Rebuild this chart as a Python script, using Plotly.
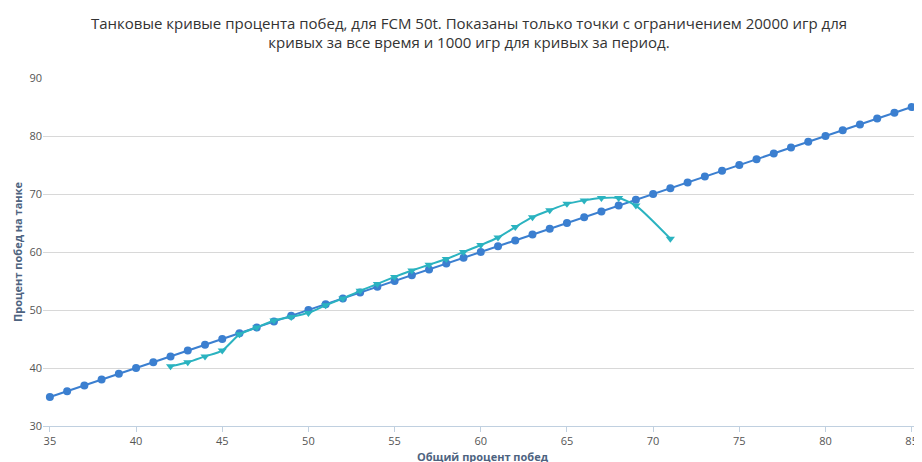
import plotly.graph_objects as go

# общая кривая (за все время)
all_x = list(range(35, 86))
all_y = [35, 36, 37, 38, 39, 40, 41, 42, 43, 44, 45, 46, 47, 48, 49, 50, 51, 52, 53, 54,
         55, 56, 57, 58, 59, 60, 61, 62, 63, 64, 65, 66, 67, 68, 69, 70, 71, 72, 73, 74,
         75, 76, 77, 78, 79, 80, 81, 82, 83, 84, 85]

# кривая за период
per_x = [42, 43, 44, 45, 46, 47, 48, 49, 50, 51, 52, 53, 54, 55, 56, 57, 58, 59, 60,
         61, 62, 63, 64, 65, 66, 67, 68, 69, 71]
per_y = [40.3, 41, 42, 43, 45.8, 47, 48.2, 48.8, 49.5, 50.8, 52, 53.3, 54.5, 55.7, 56.8,
         57.8, 58.8, 60, 61.2, 62.5, 64.3, 66, 67.2, 68.3, 68.9, 69.3, 69.3, 68, 62.3]

title = ("Танковые кривые процента побед, для FCM 50t. Показаны только точки с ограничением 20000 игр для<br>"
         "кривых за все время и 1000 игр для кривых за период.")

fig = go.Figure()
fig.add_trace(go.Scatter(x=all_x, y=all_y, mode='lines+markers', name='За все время',
                         line=dict(color='#3b7fd0', width=2),
                         marker=dict(symbol='circle', size=8, color='#3b7fd0')))
fig.add_trace(go.Scatter(x=per_x, y=per_y, mode='lines+markers', name='За период',
                         line=dict(color='#2bb3c0', width=2, shape='spline', smoothing=0.6),
                         marker=dict(symbol='triangle-down', size=8, color='#2bb3c0')))

axis_title_font = dict(family='Open Sans, sans-serif', size=11, color='#4d6380')
fig.update_layout(
    width=922, height=462,
    paper_bgcolor='white', plot_bgcolor='white',
    margin=dict(l=35, r=8, t=70, b=42),
    showlegend=False,
    title=dict(text=title, x=0.5, xanchor='center', y=0.955, yanchor='top',
               font=dict(family='Open Sans, sans-serif', size=15, color='#333333')),
    xaxis=dict(range=[34.6, 85.6], tickvals=list(range(35, 90, 5)), showgrid=False,
               showline=True, linecolor='#c0d0e0', ticks='outside', tickcolor='#c0d0e0',
               ticklen=5, zeroline=False,
               tickfont=dict(family='Open Sans, sans-serif', size=11, color='#555555'),
               title=dict(text='<b>Общий процент побед</b>', font=axis_title_font, standoff=6)),
    yaxis=dict(range=[30, 90], tickvals=list(range(30, 100, 10)), showgrid=True,
               gridcolor='#d8d8d8', zeroline=False,
               tickfont=dict(family='Open Sans, sans-serif', size=11, color='#555555'),
               title=dict(text='<b>Процент побед на танке</b>', font=axis_title_font, standoff=4)),
)

fig.write_html("out.html")
